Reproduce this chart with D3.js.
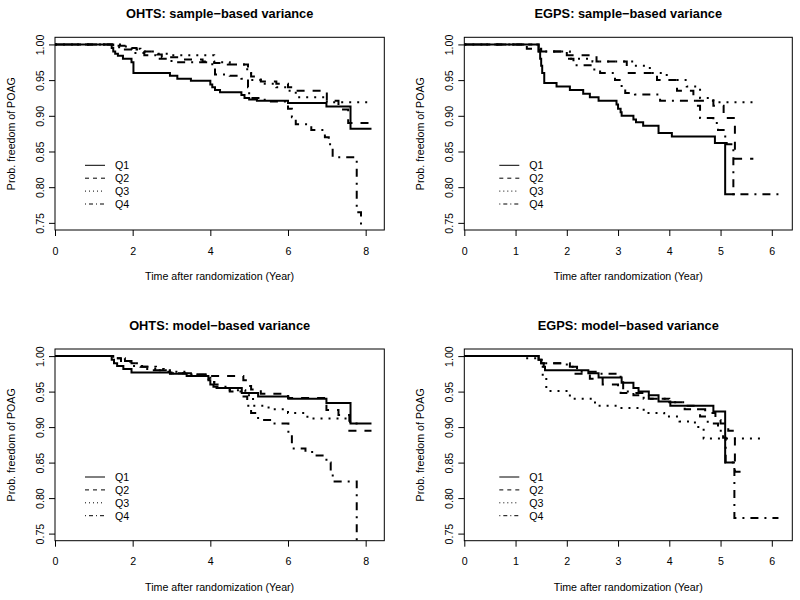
<!DOCTYPE html>
<html>
<head>
<meta charset="utf-8">
<script src="https://cdn.jsdelivr.net/npm/d3@7"></script>
<style>
  html, body { margin: 0; padding: 0; background: #fff; }
  svg { display: block; font-family: "Liberation Sans", Arial, Helvetica, sans-serif; }
</style>
</head>
<body>
<svg id="chart" width="800" height="600"></svg>
<script>
// ---------------- DATA ----------------
const quartiles = ["Q1", "Q2", "Q3", "Q4"];
const panelTitles = [
  "OHTS: sample\u2212based variance",
  "EGPS: sample\u2212based variance",
  "OHTS: model\u2212based variance",
  "EGPS: model\u2212based variance"
];
const xAxisTitle = "Time after randomization (Year)";
const yAxisTitle = "Prob. freedom of POAG";
const ohtsTicks = [0, 2, 4, 6, 8];
const egpsTicks = [0, 1, 2, 3, 4, 5, 6];
const yTicks = [0.75, 0.80, 0.85, 0.90, 0.95, 1.00];

// [time (years), survival probability]
const ohtsSampleQ1 = [[0,1],[1.46,0.995],[1.5,0.99],[1.55,0.987],[1.62,0.984],[1.75,0.98],[1.97,0.975],[2.02,0.96],[2.96,0.956],[3.15,0.952],[3.5,0.949],[4.0,0.944],[4.05,0.94],[4.12,0.936],[4.25,0.933],[4.8,0.929],[4.88,0.925],[5.0,0.923],[5.2,0.921],[6.0,0.918],[6.99,0.913],[7.61,0.882],[8.15,0.882]];
const ohtsSampleQ2 = [[0,1],[1.6,0.998],[1.9,0.995],[2.1,0.993],[2.3,0.99],[2.5,0.986],[2.75,0.982],[3.2,0.979],[3.8,0.976],[4.1,0.974],[4.45,0.972],[4.97,0.962],[5.05,0.955],[5.3,0.948],[5.7,0.945],[6.0,0.94],[6.14,0.935],[7.0,0.921],[7.3,0.909],[7.55,0.89],[8.11,0.89]];
const ohtsSampleQ3 = [[0,1],[1.7,0.997],[1.9,0.994],[2.2,0.99],[2.6,0.987],[3.0,0.985],[4.1,0.975],[4.5,0.972],[4.95,0.96],[5.05,0.95],[5.3,0.945],[5.7,0.94],[6.0,0.935],[6.2,0.926],[7.0,0.919],[8.15,0.919]];
const ohtsSampleQ4 = [[0,1],[1.5,0.996],[1.8,0.993],[2.0,0.988],[2.3,0.985],[2.6,0.98],[3.0,0.975],[4.05,0.965],[4.12,0.958],[4.5,0.956],[4.8,0.952],[4.97,0.94],[5.0,0.925],[5.4,0.92],[6.0,0.91],[6.1,0.898],[6.2,0.888],[6.6,0.88],[6.95,0.87],[7.05,0.86],[7.15,0.842],[7.77,0.765],[7.88,0.70]];

const egpsSampleQ1 = [[0,1],[1.45,0.99],[1.48,0.98],[1.5,0.97],[1.52,0.96],[1.56,0.946],[1.8,0.941],[2.06,0.936],[2.32,0.931],[2.45,0.926],[2.62,0.921],[2.97,0.916],[3.0,0.91],[3.05,0.905],[3.07,0.90],[3.3,0.895],[3.35,0.891],[3.49,0.886],[3.79,0.876],[4.05,0.871],[4.89,0.862],[5.09,0.79],[5.28,0.79]];
const egpsSampleQ2 = [[0,1],[1.22,0.994],[1.5,0.99],[2.0,0.985],[2.58,0.976],[3.17,0.96],[3.76,0.95],[4.15,0.935],[4.47,0.921],[4.86,0.914],[5.06,0.897],[5.28,0.84],[5.64,0.84]];
const egpsSampleQ3 = [[0,1],[1.47,0.99],[2.06,0.98],[2.5,0.976],[3.3,0.97],[3.62,0.96],[3.95,0.95],[4.34,0.941],[4.6,0.925],[4.86,0.919],[5.71,0.919]];
const egpsSampleQ4 = [[0,1],[1.45,0.99],[2.0,0.98],[2.13,0.971],[2.49,0.965],[2.65,0.96],[2.94,0.95],[3.07,0.937],[3.14,0.932],[3.33,0.93],[3.82,0.921],[4.5,0.914],[4.6,0.897],[4.86,0.89],[4.95,0.88],[5.06,0.871],[5.12,0.86],[5.25,0.79],[6.13,0.79]];

const ohtsModelQ1 = [[0,1],[1.46,0.995],[1.52,0.99],[1.6,0.986],[1.76,0.982],[1.97,0.977],[2.96,0.975],[3.39,0.972],[3.95,0.966],[4.0,0.96],[4.08,0.957],[4.16,0.955],[4.81,0.948],[5.23,0.943],[6.01,0.94],[6.99,0.934],[7.61,0.905],[8.15,0.905]];
const ohtsModelQ2 = [[0,1],[1.5,0.997],[1.7,0.993],[1.97,0.99],[2.1,0.985],[2.5,0.98],[2.96,0.976],[3.5,0.974],[4.0,0.972],[4.85,0.966],[4.95,0.958],[5.05,0.953],[5.3,0.947],[6.0,0.941],[6.99,0.924],[7.3,0.917],[7.58,0.895],[8.15,0.895]];
const ohtsModelQ3 = [[0,1],[1.55,0.997],[1.8,0.992],[2.0,0.986],[2.3,0.982],[2.8,0.978],[3.5,0.974],[3.95,0.968],[4.1,0.957],[4.5,0.952],[4.9,0.945],[5.1,0.93],[5.5,0.925],[6.0,0.92],[6.5,0.912],[7.6,0.905],[7.8,0.905]];
const ohtsModelQ4 = [[0,1],[1.5,0.997],[1.75,0.993],[2.0,0.99],[2.2,0.985],[2.6,0.98],[3.0,0.976],[3.5,0.974],[4.0,0.966],[4.1,0.96],[4.3,0.955],[4.5,0.95],[4.81,0.943],[4.95,0.93],[5.05,0.92],[5.23,0.91],[5.6,0.905],[6.01,0.89],[6.1,0.87],[6.45,0.865],[6.65,0.86],[6.99,0.85],[7.1,0.832],[7.2,0.8235],[7.77,0.70]];

const egpsModelQ1 = [[0,1],[1.45,0.995],[1.5,0.99],[1.55,0.985],[1.575,0.98],[2.42,0.976],[2.62,0.97],[3.07,0.9625],[3.3,0.955],[3.4,0.95],[3.6,0.945],[3.79,0.936],[4.02,0.93],[4.86,0.922],[5.09,0.85],[5.28,0.85]];
const egpsModelQ2 = [[0,1],[1.45,0.997],[1.5,0.99],[2.06,0.985],[2.15,0.975],[2.45,0.968],[2.7,0.96],[3.0,0.955],[3.05,0.948],[3.6,0.94],[4.0,0.935],[4.3,0.93],[4.55,0.925],[4.7,0.92],[4.9,0.91],[5.0,0.905],[5.15,0.895],[5.28,0.837],[5.5,0.837]];
const egpsModelQ3 = [[0,1],[1.2,0.997],[1.5,0.99],[1.53,0.97],[1.6,0.951],[2.06,0.94],[2.55,0.93],[3.0,0.927],[3.5,0.92],[3.9,0.915],[4.2,0.908],[4.5,0.9],[4.67,0.884],[5.77,0.884]];
const egpsModelQ4 = [[0,1],[1.45,0.995],[1.55,0.99],[2.0,0.985],[2.2,0.978],[2.6,0.975],[3.05,0.965],[3.1,0.95],[3.3,0.945],[3.5,0.94],[4.0,0.935],[4.3,0.925],[4.6,0.915],[4.75,0.905],[4.95,0.895],[5.05,0.885],[5.1,0.85],[5.25,0.85],[5.27,0.772],[6.13,0.772]];

// ---------------- LAYOUT / STYLE ----------------
const curveDash = ["", "8,8", "2,6", "2,6,8,6"];
const legendDash = ["", "4,4", "1,3", "1,3,4,3"];

const panels = [
  { title: panelTitles[0], series: [ohtsSampleQ1, ohtsSampleQ2, ohtsSampleQ3, ohtsSampleQ4],
    xTicks: ohtsTicks, xMax: 8.48, left: 55, right: 384.3, top: 37.3, bottom: 230, legX: 30 },
  { title: panelTitles[1], series: [egpsSampleQ1, egpsSampleQ2, egpsSampleQ3, egpsSampleQ4],
    xTicks: egpsTicks, xMax: 6.40, left: 464.3, right: 792.3, top: 37.3, bottom: 230, legX: 35 },
  { title: panelTitles[2], series: [ohtsModelQ1, ohtsModelQ2, ohtsModelQ3, ohtsModelQ4],
    xTicks: ohtsTicks, xMax: 8.48, left: 55, right: 384.3, top: 349, bottom: 540.7, legX: 30 },
  { title: panelTitles[3], series: [egpsModelQ1, egpsModelQ2, egpsModelQ3, egpsModelQ4],
    xTicks: egpsTicks, xMax: 6.40, left: 464.3, right: 792.3, top: 349, bottom: 540.7, legX: 35 }
];

const baseFont = 10.67;
const svg = d3.select("#chart");
const defs = svg.append("defs");

panels.forEach((p, i) => {
  const x = d3.scaleLinear().domain([0, p.xMax]).range([p.left, p.right]);
  const y = d3.scaleLinear().domain([0.74, 1.01]).range([p.bottom, p.top]);
  const g = svg.append("g");

  defs.append("clipPath").attr("id", "clip" + i)
    .append("rect").attr("x", p.left).attr("y", p.top)
    .attr("width", p.right - p.left).attr("height", p.bottom - p.top);

  // curves
  const line = d3.line().x(d => x(d[0])).y(d => y(d[1])).curve(d3.curveStepAfter);
  const cg = g.append("g").attr("clip-path", "url(#clip" + i + ")");
  p.series.forEach((s, k) => {
    cg.append("path").datum(s).attr("d", line)
      .attr("fill", "none").attr("stroke", "#000").attr("stroke-width", 2)
      .attr("stroke-dasharray", curveDash[k] || null);
  });

  // box
  g.append("rect").attr("x", p.left).attr("y", p.top)
    .attr("width", p.right - p.left).attr("height", p.bottom - p.top)
    .attr("fill", "none").attr("stroke", "#000").attr("stroke-width", 1);

  // x axis
  const xa = g.append("g").attr("transform", `translate(0,${p.bottom})`)
    .call(d3.axisBottom(x).tickValues(p.xTicks).tickFormat(d3.format("d")).tickSize(6).tickSizeOuter(0));
  xa.select(".domain").remove();
  xa.selectAll("text").attr("y", 17).attr("font-size", baseFont).attr("font-family", null).attr("fill", "#000");

  // y axis
  const ya = g.append("g").attr("transform", `translate(${p.left},0)`)
    .call(d3.axisLeft(y).tickValues(yTicks).tickFormat(d3.format(".2f")).tickSize(6).tickSizeOuter(0));
  ya.select(".domain").remove();
  ya.selectAll("text")
    .attr("transform", "rotate(-90)")
    .attr("x", 0).attr("y", -15).attr("dy", "0.35em")
    .attr("text-anchor", "middle").attr("font-size", baseFont).attr("font-family", null).attr("fill", "#000");

  // titles
  const cx = (p.left + p.right) / 2;
  g.append("text").attr("x", cx).attr("y", p.top - 24).attr("dy", "0.36em")
    .attr("text-anchor", "middle").attr("font-weight", "bold").attr("font-size", 12.8)
    .text(p.title);
  g.append("text").attr("x", cx).attr("y", p.bottom + 46).attr("dy", "0.36em")
    .attr("text-anchor", "middle").attr("font-size", baseFont).text(xAxisTitle);
  const cy = (p.top + p.bottom) / 2;
  g.append("text").attr("transform", `translate(${p.left - 44},${cy}) rotate(-90)`)
    .attr("dy", "0.36em").attr("text-anchor", "middle").attr("font-size", baseFont).text(yAxisTitle);

  // legend
  const lg = g.append("g").attr("transform", `translate(${p.left + p.legX},${p.top + 128})`);
  quartiles.forEach((q, k) => {
    const ly = k * 12.9;
    lg.append("line").attr("x1", 0).attr("x2", 20).attr("y1", ly).attr("y2", ly)
      .attr("stroke", "#000").attr("stroke-width", 1)
      .attr("stroke-dasharray", legendDash[k] || null);
    lg.append("text").attr("x", 30).attr("y", ly).attr("dy", "0.36em")
      .attr("font-size", baseFont).text(q);
  });
});
</script>
</body>
</html>
